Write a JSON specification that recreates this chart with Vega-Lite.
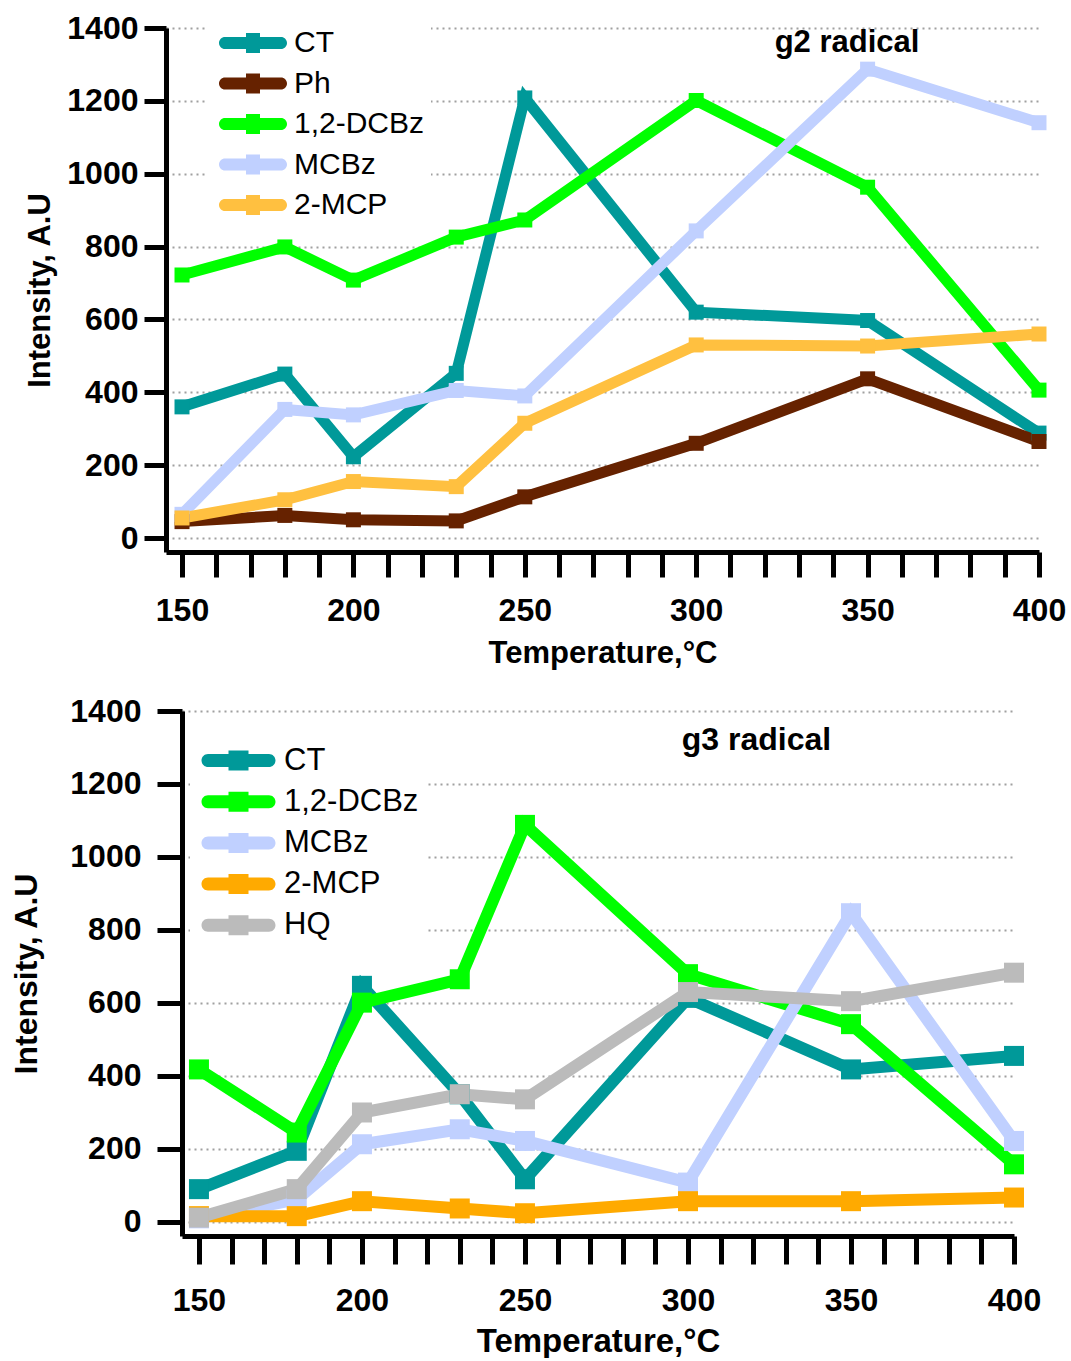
{
  "$schema": "https://vega.github.io/schema/vega-lite/v6.json",
  "padding": {"left": 10, "top": 12, "right": 0, "bottom": 0},
  "spacing": 27,
  "resolve": {"scale": {"color": "independent"}, "legend": {"color": "independent"}},
  "config": {
    "font": "Liberation Sans",
    "view": {"stroke": null},
    "axis": {
      "domainColor": "black", "domainWidth": 5, "tickColor": "black", "tickWidth": 5,
      "labelFont": "Liberation Sans", "labelFontWeight": "bold", "labelColor": "black",
      "titleFont": "Liberation Sans", "titleFontWeight": "bold", "titleColor": "black",
      "labelOverlap": false, "labelFlush": false
    },
    "legend": {"labelFont": "Liberation Sans", "labelColor": "black"}
  },
  "vconcat": [
    {
      "width": 873, "height": 524,
      "data": {"values": [
        {"s": "CT", "T": 150, "I": 360}, {"s": "CT", "T": 180, "I": 450}, {"s": "CT", "T": 200, "I": 223}, {"s": "CT", "T": 230, "I": 452}, {"s": "CT", "T": 250, "I": 1208}, {"s": "CT", "T": 300, "I": 620}, {"s": "CT", "T": 350, "I": 597}, {"s": "CT", "T": 400, "I": 288},
        {"s": "Ph", "T": 150, "I": 45}, {"s": "Ph", "T": 180, "I": 62}, {"s": "Ph", "T": 200, "I": 50}, {"s": "Ph", "T": 230, "I": 47}, {"s": "Ph", "T": 250, "I": 113}, {"s": "Ph", "T": 300, "I": 260}, {"s": "Ph", "T": 350, "I": 437}, {"s": "Ph", "T": 400, "I": 265},
        {"s": "1,2-DCBz", "T": 150, "I": 722}, {"s": "1,2-DCBz", "T": 180, "I": 799}, {"s": "1,2-DCBz", "T": 200, "I": 708}, {"s": "1,2-DCBz", "T": 230, "I": 826}, {"s": "1,2-DCBz", "T": 250, "I": 873}, {"s": "1,2-DCBz", "T": 300, "I": 1201}, {"s": "1,2-DCBz", "T": 350, "I": 963}, {"s": "1,2-DCBz", "T": 400, "I": 406},
        {"s": "MCBz", "T": 150, "I": 65}, {"s": "MCBz", "T": 180, "I": 353}, {"s": "MCBz", "T": 200, "I": 338}, {"s": "MCBz", "T": 230, "I": 405}, {"s": "MCBz", "T": 250, "I": 390}, {"s": "MCBz", "T": 300, "I": 843}, {"s": "MCBz", "T": 350, "I": 1287}, {"s": "MCBz", "T": 400, "I": 1140},
        {"s": "2-MCP", "T": 150, "I": 55}, {"s": "2-MCP", "T": 180, "I": 105}, {"s": "2-MCP", "T": 200, "I": 155}, {"s": "2-MCP", "T": 230, "I": 141}, {"s": "2-MCP", "T": 250, "I": 315}, {"s": "2-MCP", "T": 300, "I": 530}, {"s": "2-MCP", "T": 350, "I": 527}, {"s": "2-MCP", "T": 400, "I": 560}
      ]},
      "encoding": {
        "x": {"field": "T", "type": "quantitative",
          "scale": {"domain": [145.33, 400], "nice": false, "zero": false},
          "axis": {"values": [150,160,170,180,190,200,210,220,230,240,250,260,270,280,290,300,310,320,330,340,350,360,370,380,390,400],
            "tickSize": 25, "labelFontSize": 32, "labelPadding": 18, "titleFontSize": 31, "titlePadding": 12, "grid": false,
            "labelExpr": "datum.value % 50 === 0 ? datum.label : ''",
            "encode": {"ticks": {"update": {"y2": {"signal": "datum.value % 50 === 0 ? 25 : 13"}, "strokeCap": {"value": "round"}}}}},
          "title": "Temperature,°C"},
        "y": {"field": "I", "type": "quantitative",
          "scale": {"domain": [-38.4, 1400], "nice": false, "zero": false},
          "axis": {"values": [0,200,400,600,800,1000,1200,1400], "format": "d", "tickSize": 22, "labelFontSize": 32, "labelPadding": 6,
            "titleFontSize": 31, "titlePadding": 10, "grid": true, "gridDash": [2, 4], "gridColor": "#a0a0a0", "gridWidth": 2},
          "title": "Intensity, A.U"}
      },
      "layer": [
        {"mark": {"type": "line", "strokeWidth": 11},
         "encoding": {"color": {"field": "s", "type": "nominal",
           "scale": {"domain": ["CT", "Ph", "1,2-DCBz", "MCBz", "2-MCP"], "range": ["#009999", "#662200", "#00FF00", "#C0D0FF", "#FFC040"]},
           "legend": {"title": null, "orient": "none", "legendX": 42, "legendY": -6, "padding": 6, "fillColor": "white",
             "symbolType": "M-2.8,-0.6H2.8A0.6,0.6,0,0,1,2.8,0.6H-2.8A0.6,0.6,0,0,1,-2.8,-0.6ZM-0.7,-1H0.7V1H-0.7Z",
             "symbolSize": 400, "symbolStrokeWidth": 0, "symbolOffset": 24, "labelOffset": 26, "labelFontSize": 30, "rowPadding": 10.5}}}},
        {"mark": {"type": "point", "shape": "square", "filled": true, "size": 225, "opacity": 1},
         "encoding": {"color": {"field": "s", "type": "nominal"}}},
        {"data": {"values": [{"T": 344, "I": 1359, "label": "g2 radical"}]},
         "mark": {"type": "text", "fontSize": 31, "fontWeight": "bold", "font": "Liberation Sans", "baseline": "middle", "align": "center", "color": "black"},
         "encoding": {"text": {"field": "label", "type": "nominal"}}}
      ]
    },
    {
      "width": 848, "height": 525,
      "data": {"values": [
        {"s": "CT", "T": 150, "I": 90}, {"s": "CT", "T": 180, "I": 195}, {"s": "CT", "T": 200, "I": 647}, {"s": "CT", "T": 230, "I": 350}, {"s": "CT", "T": 250, "I": 117}, {"s": "CT", "T": 300, "I": 614}, {"s": "CT", "T": 350, "I": 418}, {"s": "CT", "T": 400, "I": 455},
        {"s": "1,2-DCBz", "T": 150, "I": 418}, {"s": "1,2-DCBz", "T": 180, "I": 245}, {"s": "1,2-DCBz", "T": 200, "I": 601}, {"s": "1,2-DCBz", "T": 230, "I": 665}, {"s": "1,2-DCBz", "T": 250, "I": 1088}, {"s": "1,2-DCBz", "T": 300, "I": 679}, {"s": "1,2-DCBz", "T": 350, "I": 542}, {"s": "1,2-DCBz", "T": 400, "I": 158},
        {"s": "MCBz", "T": 150, "I": 10}, {"s": "MCBz", "T": 180, "I": 62}, {"s": "MCBz", "T": 200, "I": 213}, {"s": "MCBz", "T": 230, "I": 254}, {"s": "MCBz", "T": 250, "I": 222}, {"s": "MCBz", "T": 300, "I": 108}, {"s": "MCBz", "T": 350, "I": 846}, {"s": "MCBz", "T": 400, "I": 222},
        {"s": "2-MCP", "T": 150, "I": 16}, {"s": "2-MCP", "T": 180, "I": 16}, {"s": "2-MCP", "T": 200, "I": 57}, {"s": "2-MCP", "T": 230, "I": 37}, {"s": "2-MCP", "T": 250, "I": 24}, {"s": "2-MCP", "T": 300, "I": 57}, {"s": "2-MCP", "T": 350, "I": 57}, {"s": "2-MCP", "T": 400, "I": 67},
        {"s": "HQ", "T": 150, "I": 12}, {"s": "HQ", "T": 180, "I": 90}, {"s": "HQ", "T": 200, "I": 300}, {"s": "HQ", "T": 230, "I": 350}, {"s": "HQ", "T": 250, "I": 336}, {"s": "HQ", "T": 300, "I": 630}, {"s": "HQ", "T": 350, "I": 605}, {"s": "HQ", "T": 400, "I": 683}
      ]},
      "encoding": {
        "x": {"field": "T", "type": "quantitative",
          "scale": {"domain": [144.8, 400], "range": [16, 848], "nice": false, "zero": false},
          "axis": {"values": [150,160,170,180,190,200,210,220,230,240,250,260,270,280,290,300,310,320,330,340,350,360,370,380,390,400],
            "tickSize": 28, "labelFontSize": 32, "labelPadding": 21, "titleFontSize": 33, "titlePadding": 9, "grid": false,
            "labelExpr": "datum.value % 50 === 0 ? datum.label : ''",
            "encode": {"ticks": {"update": {"y2": {"signal": "datum.value % 50 === 0 ? 28 : 16"}, "strokeCap": {"value": "round"}}}}},
          "title": "Temperature,°C"},
        "y": {"field": "I", "type": "quantitative",
          "scale": {"domain": [-38.4, 1400], "nice": false, "zero": false},
          "axis": {"values": [0,200,400,600,800,1000,1200,1400], "format": "d", "offset": -16, "tickSize": 25, "labelFontSize": 32, "labelPadding": 16,
            "titleFontSize": 32, "titlePadding": 26, "grid": true, "gridDash": [2, 4], "gridColor": "#a0a0a0", "gridWidth": 2},
          "title": "Intensity, A.U"}
      },
      "layer": [
        {"mark": {"type": "line", "strokeWidth": 12},
         "encoding": {"color": {"field": "s", "type": "nominal",
           "scale": {"domain": ["CT", "1,2-DCBz", "MCBz", "2-MCP", "HQ"], "range": ["#009999", "#00FF00", "#C0D0FF", "#FFAA00", "#BBBBBB"]},
           "legend": {"title": null, "orient": "none", "legendX": 24, "legendY": 28, "padding": 6, "fillColor": "white",
             "symbolType": "M-3.05,-0.65H3.05A0.65,0.65,0,0,1,3.05,0.65H-3.05A0.65,0.65,0,0,1,-3.05,-0.65ZM-1,-1H1V1H-1Z",
             "symbolSize": 400, "symbolStrokeWidth": 0, "symbolOffset": 27, "labelOffset": 30, "labelFontSize": 31, "rowPadding": 9.2}}}},
        {"mark": {"type": "point", "shape": "square", "filled": true, "size": 400, "opacity": 1},
         "encoding": {"color": {"field": "s", "type": "nominal"}}},
        {"data": {"values": [{"T": 321, "I": 1320, "label": "g3 radical"}]},
         "mark": {"type": "text", "fontSize": 32, "fontWeight": "bold", "font": "Liberation Sans", "baseline": "middle", "align": "center", "color": "black"},
         "encoding": {"text": {"field": "label", "type": "nominal"}}}
      ]
    }
  ]
}
